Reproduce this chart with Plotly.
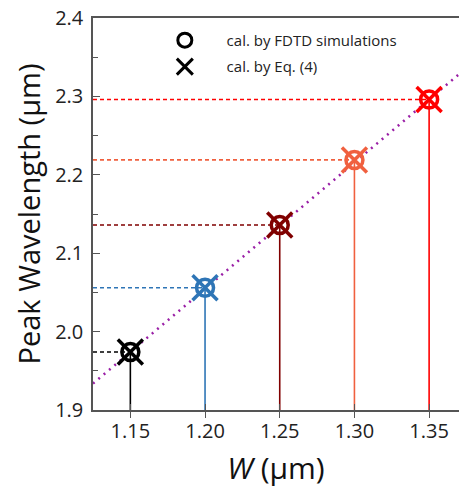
import plotly.graph_objects as go

W = [1.15, 1.20, 1.25, 1.30, 1.35]
peak = [1.974, 2.056, 2.136, 2.219, 2.296]
colors = ["#000000", "#2e75b6", "#800000", "#f0603f", "#ff0000"]
fit_x = [1.125, 1.37]
fit_slope = 1.61
fit_intercept = 1.974 - 1.61 * 1.15
x_range = [1.125, 1.37]
y_range = [1.9, 2.4]
x_ticks = [1.15, 1.20, 1.25, 1.30, 1.35]
x_ticklabels = ["1.15", "1.20", "1.25", "1.30", "1.35"]
y_ticks = [1.9, 2.0, 2.1, 2.2, 2.3, 2.4]
y_ticklabels = ["1.9", "2.0", "2.1", "2.2", "2.3", "2.4"]
legend_names = ["cal. by FDTD simulations", "cal. by Eq. (4)"]

FONT = "Open Sans"
AX = "#555555"
fig = go.Figure()

# fit line
fig.add_trace(go.Scatter(x=fit_x, y=[fit_intercept + fit_slope * v for v in fit_x],
                         mode="lines", line=dict(color="#9a1fa6", width=2.5, dash="2px,5px"),
                         showlegend=False, hoverinfo="skip"))

for w, p, c in zip(W, peak, colors):
    fig.add_trace(go.Scatter(x=[w, w], y=[y_range[0], p], mode="lines",
                             line=dict(color=c, width=1.6), showlegend=False))
    fig.add_trace(go.Scatter(x=[x_range[0], w], y=[p, p], mode="lines",
                             line=dict(color=c, width=1.6, dash="4px,3px"), showlegend=False))

for w, p, c in zip(W, peak, colors):
    fig.add_trace(go.Scatter(x=[w], y=[p], mode="markers",
                             marker=dict(symbol="circle-open", size=17, color=c, line=dict(width=3.5, color=c)),
                             showlegend=False))
    fig.add_trace(go.Scatter(x=[w], y=[p], mode="markers",
                             marker=dict(symbol="x-thin-open", size=25, color=c, line=dict(width=3.5, color=c)),
                             showlegend=False))

# legend entries
pad = "\u00a0\u00a0"
fig.add_trace(go.Scatter(x=[None], y=[None], mode="markers", name=pad + legend_names[0],
                         legendgroup="a",
                         marker=dict(symbol="circle-open", size=14, color="black", line=dict(width=3, color="black"))))
fig.add_trace(go.Scatter(x=[None], y=[None], mode="markers", name=pad + legend_names[1],
                         legendgroup="b",
                         marker=dict(symbol="x-thin-open", size=18, color="black", line=dict(width=3, color="black"))))

# overlay axis to give crossing ticks on x
fig.add_trace(go.Scatter(x=[None], y=[None], xaxis="x2", showlegend=False))

fig.update_layout(
    width=459, height=488,
    margin=dict(l=93, r=0, t=18, b=78),
    plot_bgcolor="white", paper_bgcolor="white",
    font=dict(family=FONT, color="#222222"),
    showlegend=True,
    legend=dict(x=0.158, y=0.985, xanchor="left", yanchor="top",
                bgcolor="rgba(0,0,0,0)", font=dict(size=15, family=FONT, color="#222"),
                tracegroupgap=4, itemwidth=58),
    xaxis=dict(range=x_range, tickvals=x_ticks, ticktext=x_ticklabels,
               showline=True, linecolor=AX, linewidth=1.5, mirror=True,
               ticks="outside", ticklen=6, tickcolor=AX, showgrid=False, zeroline=False,
               tickfont=dict(size=20, family=FONT, color="#222"), ticklabelstandoff=-4,
               title=dict(text="<i>W</i> (μm)", font=dict(size=30, family=FONT, color="#111"), standoff=22)),
    xaxis2=dict(range=x_range, tickvals=x_ticks, overlaying="x", side="bottom", anchor="y",
                showticklabels=False, ticks="inside", ticklen=6, tickcolor=AX,
                showgrid=False, zeroline=False, showline=False),
    yaxis=dict(range=y_range, tickvals=y_ticks, ticktext=y_ticklabels,
               showline=True, linecolor=AX, linewidth=1.5, mirror=False,
               ticks="inside", ticklen=7, tickcolor=AX, showgrid=False, zeroline=False,
               minor=dict(ticks="inside", ticklen=5, tickcolor=AX, dtick=0.05),
               tickfont=dict(size=20, family=FONT, color="#222"), ticklabelstandoff=4,
               title=dict(text="Peak Wavelength (μm)", font=dict(size=29, family=FONT, color="#111"), standoff=6)),
)

fig.write_html("out.html")
